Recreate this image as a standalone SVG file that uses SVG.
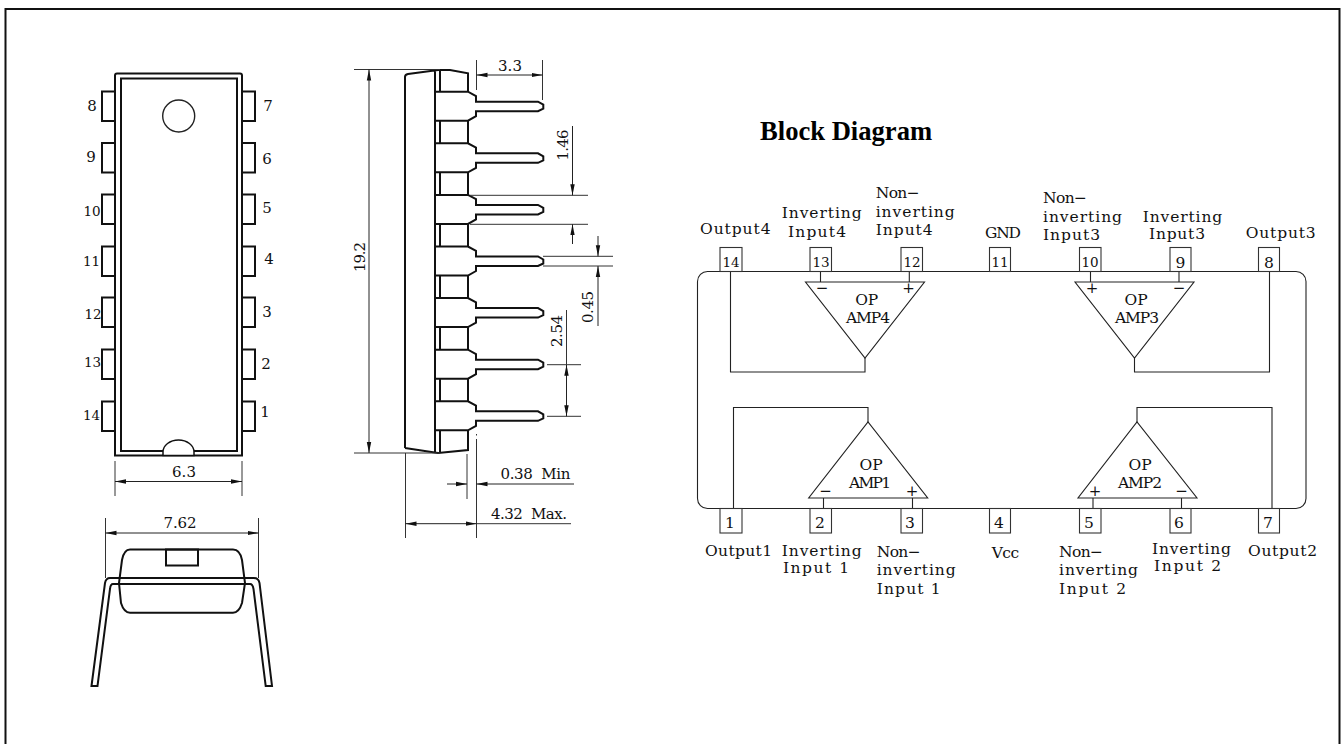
<svg xmlns="http://www.w3.org/2000/svg" xmlns:xlink="http://www.w3.org/1999/xlink" width="1342" height="744" viewBox="0 0 1342 744">
<style>
text{font-family:"DejaVu Serif","Liberation Serif",serif;font-size:15.5px;fill:#111}
.m{text-anchor:middle}
.s{font-size:15px}
.n{font-size:13.5px}
.title{font-family:"Liberation Serif",serif;font-weight:bold;font-size:26.6px;fill:#000}
.heavy{fill:none;stroke:#111;stroke-width:2}
.mid{fill:none;stroke:#222;stroke-width:1.4}
.thin{fill:none;stroke:#333;stroke-width:1}
.box{fill:#fff;stroke:#333;stroke-width:1.1}
.wire{fill:none;stroke:#222;stroke-width:1.1}
.dim{fill:none;stroke:#222;stroke-width:1;marker-end:url(#arr)}
</style>
<defs>
<marker id="arr" markerUnits="userSpaceOnUse" markerWidth="12" markerHeight="6" refX="11" refY="3" orient="auto"><path d="M0 0.8 L11 3 L0 5.2Z" fill="#111"/></marker>
<path id="lead" class="heavy" d="M435 0H468L476 4.3V10H538L543.3 13V17L538 19.5H476V24.5L468 29H435"/>
<path id="win" class="heavy" d="M440 0V22.6M468 0V22.6"/>
<rect id="pin" class="heavy" width="13" height="29.5"/>
</defs>
<rect id="frame" x="5.5" y="9" width="1334" height="760" fill="#fff" stroke="#111" stroke-width="2"/>

<g id="top-view">
<path class="heavy" d="M115 455.5V75.5Q115 73.5 117 73.5H240Q242 73.5 242 75.5V455.5Z"/>
<rect class="heavy" x="121" y="78.5" width="116" height="372.5"/>
<circle class="mid" cx="178.7" cy="116" r="16"/>
<path d="M163 455.5V452A15.5 12 0 0 1 194 452V455.5Z" fill="#fff" stroke="#111" stroke-width="1.5"/>
<use xlink:href="#pin" href="#pin" x="102" y="91.5"/><use href="#pin" x="102" y="143"/><use href="#pin" x="102" y="194.5"/><use href="#pin" x="102" y="246.5"/><use href="#pin" x="102" y="297.5"/><use href="#pin" x="102" y="349.5"/><use href="#pin" x="102" y="401.5"/>
<use href="#pin" x="242" y="91.5"/><use href="#pin" x="242" y="143"/><use href="#pin" x="242" y="194.5"/><use href="#pin" x="242" y="246.5"/><use href="#pin" x="242" y="297.5"/><use href="#pin" x="242" y="349.5"/><use href="#pin" x="242" y="401.5"/>
<g class="pinno">
<text class="m s" x="92" y="111">8</text><text class="m s" x="91" y="162">9</text><text class="m n" x="92" y="216">10</text><text class="m n" x="91.5" y="266">11</text><text class="m n" x="93" y="319">12</text><text class="m n" x="92.5" y="367">13</text><text class="m n" x="91.5" y="420">14</text>
<text class="m s" x="268" y="111">7</text><text class="m s" x="267" y="164">6</text><text class="m s" x="267" y="213">5</text><text class="m s" x="269" y="264">4</text><text class="m s" x="267" y="317">3</text><text class="m s" x="266" y="369">2</text><text class="m s" x="265" y="417">1</text>
</g>
</g>

<g id="front-view">
<path class="heavy" d="M130 549.5H233Q240 549.5 242 560L245 583L242 603Q239 612.7 233 612.7H130Q124 612.7 121 603L119 583L122 560Q124 549.5 130 549.5Z"/>
<rect class="heavy" x="166" y="549.5" width="32" height="16"/>
<path class="heavy" d="M91.5 686L105 583Q106 578 110 578H254Q258.5 578 259.5 583L272 686H265.7L253.5 589Q252.7 584 250 584H113Q110.5 584 110 589L97.5 686Z"/>
</g>

<g id="side-view">
<path class="heavy" d="M435 70V453M405 448V77Q405 74.5 408 74L438 70H450L468 73.3V91.7M468 430V450L438 453L405 448M440 70V91.7M440 430V452"/>
<use href="#lead" y="91.7"/><use href="#lead" y="143.3"/><use href="#lead" y="194.9"/><use href="#lead" y="246.5"/><use href="#lead" y="298.1"/><use href="#lead" y="349.7"/><use href="#lead" y="401.3"/>
<use href="#win" y="120.7"/><use href="#win" y="172.3"/><use href="#win" y="223.9"/><use href="#win" y="275.5"/><use href="#win" y="327.1"/><use href="#win" y="378.7"/>
</g>

<g id="dimensions">
<path class="thin" d="M115 461V496M242 461V496M105.5 518V578M258.5 518V578"/>
<line class="dim" x1="180" y1="481.5" x2="115" y2="481.5"/><line class="dim" x1="180" y1="481.5" x2="242" y2="481.5"/>
<line class="dim" x1="180" y1="533" x2="105.5" y2="533"/><line class="dim" x1="180" y1="533" x2="258.5" y2="533"/>
<path class="thin" d="M354 69.5H440M354 453H440"/>
<line class="dim" x1="369" y1="260" x2="369" y2="69.5"/><line class="dim" x1="369" y1="260" x2="369" y2="453"/>
<path class="thin" d="M476.5 60V90M542.5 60V100"/>
<line class="dim" x1="510" y1="75" x2="476.5" y2="75"/><line class="dim" x1="510" y1="75" x2="542.5" y2="75"/>
<path class="thin" d="M470 195.3H588M470 224.3H588"/>
<line class="dim" x1="572.5" y1="126" x2="572.5" y2="195.3"/><line class="dim" x1="572.5" y1="244" x2="572.5" y2="224.3"/>
<path class="thin" d="M543 256.3H613M543 266H613"/>
<line class="dim" x1="598" y1="236" x2="598" y2="256.3"/><line class="dim" x1="598" y1="326" x2="598" y2="266"/>
<path class="thin" d="M547 364.7H581M547 416.3H581"/>
<line class="dim" x1="566.5" y1="390" x2="566.5" y2="364.7"/><line class="dim" x1="566.5" y1="390" x2="566.5" y2="416.3"/>
<line class="thin" x1="566.5" y1="310" x2="566.5" y2="364.7"/>
<path class="thin" d="M467 454V499M476.5 434V435.5M476.5 439V538M405.5 453V538"/>
<line class="dim" x1="447" y1="484" x2="467" y2="484"/><line class="dim" x1="574" y1="484" x2="476.5" y2="484"/>
<line class="dim" x1="440" y1="523.7" x2="405.5" y2="523.7"/><line class="dim" x1="440" y1="523.7" x2="476.5" y2="523.7"/>
<line class="thin" x1="476.5" y1="523.7" x2="571" y2="523.7"/>
<text class="m s" x="184" y="477" textLength="24" lengthAdjust="spacing">6.3</text>
<text class="m s" x="180" y="528" textLength="33" lengthAdjust="spacing">7.62</text>
<text class="m s" x="510" y="71" textLength="24" lengthAdjust="spacing">3.3</text>
<text class="m s" transform="translate(365 257) rotate(-90)" textLength="30" lengthAdjust="spacing">19.2</text>
<text class="m s" transform="translate(568 145) rotate(-90)" textLength="31" lengthAdjust="spacing">1.46</text>
<text class="m s" transform="translate(593 307) rotate(-90)" textLength="32" lengthAdjust="spacing">0.45</text>
<text class="m s" transform="translate(562 331) rotate(-90)" textLength="32" lengthAdjust="spacing">2.54</text>
<text class="s" x="500.5" y="479" textLength="70" lengthAdjust="spacing" xml:space="preserve">0.38  Min</text>
<text class="s" x="491" y="519" textLength="76" lengthAdjust="spacing" xml:space="preserve">4.32  Max.</text>
</g>

<text id="title" class="title" x="760" y="139.5">Block Diagram</text>

<g id="connectors">
<rect class="wire" x="697.5" y="271.5" width="608.5" height="237" rx="10" ry="10"/>
<path class="wire" d="M820.5 271.5V282M909.3 271.5V282M730.5 271.5V372H865V358"/>
<path class="wire" d="M1090.5 271.5V282M1179 271.5V282M1269.5 271.5V372H1134.5V358"/>
<path class="wire" d="M823.5 508.5V498M912.5 508.5V498M733.5 508.5V407.5H868V422" />
<path class="wire" d="M1093 508.5V498M1181.5 508.5V498M1272 508.5V407.5H1137V422"/>
</g>

<g id="amp4"><path class="wire" d="M805.5 282H924.5L865 358Z"/><text class="m" x="866.7" y="305">OP</text><text class="m" x="868" y="323" textLength="44" lengthAdjust="spacing">AMP4</text><text class="m s" x="822" y="293">−</text><text class="m s" x="908.5" y="293">+</text></g>
<g id="amp3"><path class="wire" d="M1075 282H1194L1134.5 358Z"/><text class="m" x="1136" y="305">OP</text><text class="m" x="1137" y="323" textLength="44" lengthAdjust="spacing">AMP3</text><text class="m s" x="1092" y="293">+</text><text class="m s" x="1179" y="293">−</text></g>
<g id="amp1"><path class="wire" d="M808.7 498H927.7L868 422Z"/><text class="m" x="871" y="470">OP</text><text class="m" x="870" y="488" textLength="42" lengthAdjust="spacing">AMP1</text><text class="m s" x="825.5" y="496">−</text><text class="m s" x="912" y="496">+</text></g>
<g id="amp2"><path class="wire" d="M1078 498H1197L1137 422Z"/><text class="m" x="1140" y="470">OP</text><text class="m" x="1140" y="488" textLength="44" lengthAdjust="spacing">AMP2</text><text class="m s" x="1095" y="496">+</text><text class="m s" x="1181.5" y="496">−</text></g>

<g id="pin14"><rect class="box" x="720" y="247.5" width="22" height="24"/><text class="m n" x="731" y="267">14</text><text x="700" y="234" textLength="70.5" lengthAdjust="spacing">Output4</text></g>
<g id="pin13"><rect class="box" x="810" y="247.5" width="21.5" height="24"/><text class="m n" x="821" y="267">13</text><text x="781.7" y="218" textLength="80" lengthAdjust="spacing">Inverting</text><text x="788" y="236.5" textLength="58" lengthAdjust="spacing">Input4</text></g>
<g id="pin12"><rect class="box" x="901" y="247.5" width="21.5" height="24"/><text class="m n" x="912" y="267">12</text><text x="875.7" y="197.7" textLength="44" lengthAdjust="spacing">Non−</text><text x="875.7" y="216.7" textLength="79" lengthAdjust="spacing">inverting</text><text x="875.7" y="235.3" textLength="57" lengthAdjust="spacing">Input4</text></g>
<g id="pin11"><rect class="box" x="989.5" y="247.5" width="21" height="24"/><text class="m n" x="1000" y="267">11</text><text x="985" y="238" textLength="36" lengthAdjust="spacing">GND</text></g>
<g id="pin10"><rect class="box" x="1079.5" y="247.5" width="21.5" height="24"/><text class="m n" x="1090" y="267">10</text><text x="1043" y="202.7" textLength="44" lengthAdjust="spacing">Non−</text><text x="1043" y="221.7" textLength="79" lengthAdjust="spacing">inverting</text><text x="1043" y="240" textLength="57" lengthAdjust="spacing">Input3</text></g>
<g id="pin9"><rect class="box" x="1170" y="247.5" width="21" height="24"/><text class="m" x="1180.5" y="268">9</text><text x="1142.7" y="221.7" textLength="79.5" lengthAdjust="spacing">Inverting</text><text x="1149" y="239" textLength="56" lengthAdjust="spacing">Input3</text></g>
<g id="pin8"><rect class="box" x="1258.5" y="247.5" width="21" height="24"/><text class="m" x="1269" y="268">8</text><text x="1245.7" y="238" textLength="70" lengthAdjust="spacing">Output3</text></g>

<g id="pin1"><rect class="box" x="720" y="508.5" width="22" height="24.5"/><text class="m" x="730" y="527.7">1</text><text x="705" y="555.7" textLength="67" lengthAdjust="spacing">Output1</text></g>
<g id="pin2"><rect class="box" x="810" y="508.5" width="21.5" height="24.5"/><text class="m" x="820" y="527.7">2</text><text x="781.7" y="556" textLength="80" lengthAdjust="spacing">Inverting</text><text x="783" y="572.7" textLength="66" lengthAdjust="spacing" xml:space="preserve">Input 1</text></g>
<g id="pin3"><rect class="box" x="901" y="508.5" width="21.5" height="24.5"/><text class="m" x="910" y="527.7">3</text><text x="876.7" y="556.7" textLength="44" lengthAdjust="spacing">Non−</text><text x="876.7" y="575" textLength="79" lengthAdjust="spacing">inverting</text><text x="876.7" y="594" textLength="64" lengthAdjust="spacing" xml:space="preserve">Input 1</text></g>
<g id="pin4"><rect class="box" x="989.5" y="508.5" width="21" height="24.5"/><text class="m" x="999" y="527.7">4</text><text x="991.7" y="557.7" textLength="27.5" lengthAdjust="spacing">Vcc</text></g>
<g id="pin5"><rect class="box" x="1079.5" y="508.5" width="21.5" height="24.5"/><text class="m" x="1089" y="527.7">5</text><text x="1059" y="557" textLength="44" lengthAdjust="spacing">Non−</text><text x="1059" y="575" textLength="79" lengthAdjust="spacing">inverting</text><text x="1059" y="594" textLength="67" lengthAdjust="spacing" xml:space="preserve">Input 2</text></g>
<g id="pin6"><rect class="box" x="1170" y="508.5" width="21" height="24.5"/><text class="m" x="1179" y="527.7">6</text><text x="1152" y="554" textLength="79" lengthAdjust="spacing">Inverting</text><text x="1154" y="571" textLength="67" lengthAdjust="spacing" xml:space="preserve">Input 2</text></g>
<g id="pin7"><rect class="box" x="1258.5" y="508.5" width="21" height="24.5"/><text class="m" x="1268" y="527.7">7</text><text x="1248" y="555.7" textLength="69" lengthAdjust="spacing">Output2</text></g>
</svg>
